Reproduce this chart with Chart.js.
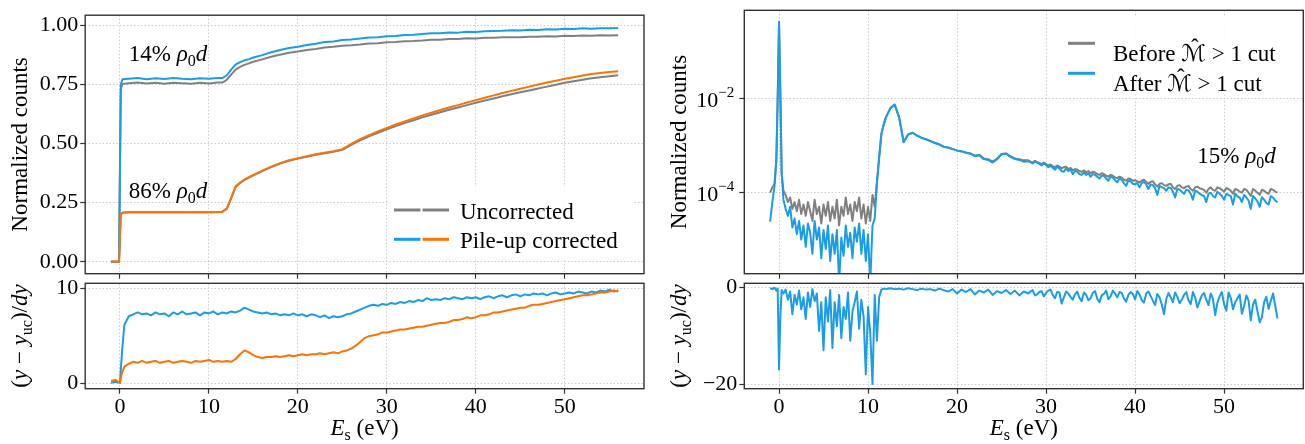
<!DOCTYPE html>
<html>
<head>
<meta charset="utf-8">
<script src="https://cdn.jsdelivr.net/npm/chart.js@4.4.1/dist/chart.umd.min.js"></script>
<style>
  body { margin: 0; background: #fff; }
  #wrap { position: relative; width: 1305px; height: 444px; }
  #wrap canvas { position: absolute; left: 0; top: 0; }
</style>
</head>
<body>
<div id="wrap">
  <canvas id="tl" width="1305" height="444"></canvas>
  <canvas id="bl" width="1305" height="444"></canvas>
  <canvas id="tr" width="1305" height="444"></canvas>
  <canvas id="br" width="1305" height="444"></canvas>
</div>
<script>
// ---- data: left panels (cumulative counts + relative difference) ----
const xTop = [-1, -0.5, -0.1, 0.1, 0.3,
  1, 2, 3, 4, 5, 6, 7, 8, 9, 10, 11,
  11.5, 12, 12.5, 13, 13.5, 14, 14.5, 15,
  16, 17, 18, 19, 20, 21, 22, 23, 24, 25,
  26, 27, 28, 29, 30, 31, 32, 33, 34, 35,
  36, 37, 38, 39, 40, 41, 42, 43, 44, 45,
  46, 47, 48, 49, 50, 51, 52, 53, 54, 55,
  56];

const thinCorrected = [0, 0, 0, 0.75, 0.771,
  0.773, 0.776, 0.771, 0.775, 0.772, 0.776, 0.773, 0.771, 0.775, 0.773, 0.776,
  0.776, 0.787, 0.812, 0.833, 0.843, 0.851, 0.856, 0.863,
  0.873, 0.885, 0.895, 0.903, 0.908, 0.916, 0.921, 0.928, 0.931, 0.937,
  0.939, 0.943, 0.947, 0.948, 0.953, 0.954, 0.958, 0.959, 0.962, 0.965,
  0.965, 0.969, 0.968, 0.972, 0.971, 0.974, 0.975, 0.976, 0.978, 0.977,
  0.980, 0.979, 0.982, 0.981, 0.984, 0.983, 0.986, 0.984, 0.987, 0.986,
  0.988];

const thinUncorrected = [0, 0, 0, 0.73, 0.751,
  0.754, 0.757, 0.753, 0.756, 0.752, 0.756, 0.754, 0.752, 0.756, 0.753, 0.757,
  0.757, 0.768, 0.791, 0.812, 0.823, 0.832, 0.838, 0.845,
  0.855, 0.866, 0.875, 0.883, 0.888, 0.895, 0.899, 0.905, 0.908, 0.913,
  0.915, 0.918, 0.922, 0.923, 0.927, 0.928, 0.932, 0.933, 0.935, 0.938,
  0.938, 0.941, 0.941, 0.944, 0.943, 0.946, 0.946, 0.948, 0.949, 0.949,
  0.951, 0.951, 0.953, 0.952, 0.955, 0.954, 0.956, 0.955, 0.957, 0.956,
  0.957];

const thickCorrected = [0, 0, 0, 0.2, 0.208,
  0.210, 0.211, 0.210, 0.211, 0.210, 0.211, 0.210, 0.210, 0.211, 0.210, 0.211,
  0.212, 0.225, 0.270, 0.318, 0.335, 0.348, 0.358, 0.367,
  0.385, 0.402, 0.417, 0.429, 0.438, 0.446, 0.454, 0.461, 0.467, 0.476,
  0.498, 0.518, 0.535, 0.551, 0.566, 0.580, 0.593, 0.606, 0.618, 0.630,
  0.641, 0.652, 0.662, 0.673, 0.683, 0.693, 0.703, 0.713, 0.722, 0.731,
  0.740, 0.749, 0.757, 0.765, 0.773, 0.780, 0.787, 0.793, 0.798, 0.802,
  0.805];

const thickUncorrected = [0, 0, 0, 0.2, 0.207,
  0.209, 0.210, 0.209, 0.210, 0.209, 0.210, 0.209, 0.209, 0.210, 0.209, 0.210,
  0.211, 0.224, 0.268, 0.316, 0.333, 0.346, 0.356, 0.365,
  0.383, 0.400, 0.415, 0.427, 0.436, 0.444, 0.452, 0.459, 0.465, 0.473,
  0.494, 0.513, 0.530, 0.545, 0.560, 0.573, 0.586, 0.598, 0.610, 0.621,
  0.632, 0.642, 0.652, 0.662, 0.672, 0.681, 0.690, 0.699, 0.708, 0.716,
  0.724, 0.732, 0.740, 0.748, 0.756, 0.763, 0.769, 0.775, 0.780, 0.784,
  0.788];

const xBottom = [-1, -0.5, 0, 0.25,
  0.5, 1, 1.5, 2, 2.5, 3, 3.5, 4, 4.5, 5,
  5.5, 6, 6.5, 7, 7.5, 8, 8.5, 9, 9.5, 10,
  10.5, 11, 11.5, 12, 12.5, 13, 13.5, 14, 14.5, 15,
  15.5, 16, 16.5, 17, 17.5, 18, 18.5, 19, 19.5, 20,
  20.5, 21, 21.5, 22, 22.5, 23, 23.5, 24, 24.5, 25,
  25.5, 26, 26.5, 27, 27.5, 28, 28.5, 29, 29.5, 30,
  30.5, 31, 31.5, 32, 32.5, 33, 33.5, 34, 34.5, 35,
  35.5, 36, 36.5, 37, 37.5, 38, 38.5, 39, 39.5, 40,
  40.5, 41, 41.5, 42, 42.5, 43, 43.5, 44, 44.5, 45,
  45.5, 46, 46.5, 47, 47.5, 48, 48.5, 49, 49.5, 50,
  50.5, 51, 51.5, 52, 52.5, 53, 53.5, 54, 54.5, 55,
  55.5, 56];

const thinDiff = [0.1, 0.2, 0.1, 3.5,
  6.2, 7.1, 7.3, 7.5, 7.3, 7.4, 7.2, 7.5, 7.3, 7.4,
  7.1, 7.5, 7.3, 7.6, 7.3, 7.4, 7.5, 7.2, 7.5, 7.4,
  7.6, 7.3, 7.5, 7.4, 7.6, 7.5, 7.7, 8.0, 7.8, 7.6,
  7.5, 7.4, 7.5, 7.3, 7.4, 7.2, 7.3, 7.2, 7.4, 7.2,
  7.3, 7.1, 7.3, 7.2, 7.0, 7.2, 6.9, 7.1, 7.0, 7.1,
  7.3, 7.4, 7.6, 7.8, 8.0, 8.2, 8.3, 8.2, 8.4, 8.3,
  8.5, 8.4, 8.6, 8.5, 8.7, 8.6, 8.8, 8.7, 9.0, 8.8,
  8.9, 8.8, 9.0, 8.9, 9.1, 9.0, 8.9, 9.1, 9.0, 9.1,
  8.9, 9.1, 9.2, 9.0, 9.2, 9.3, 9.1, 9.3, 9.4, 9.2,
  9.4, 9.3, 9.5, 9.4, 9.5, 9.3, 9.5, 9.6, 9.4, 9.5,
  9.6, 9.5, 9.7, 9.6, 9.5, 9.7, 9.6, 9.8, 9.7, 9.9,
  9.7, 9.8];

const thickDiff = [0.3, 0.4, 0.1, 1.2,
  1.8, 2.1, 2.3, 2.2, 2.4, 2.2, 2.3, 2.4, 2.2, 2.3,
  2.4, 2.2, 2.3, 2.4, 2.3, 2.2, 2.4, 2.3, 2.4, 2.5,
  2.3, 2.4, 2.3, 2.4, 2.3, 2.6, 3.1, 3.5, 3.3, 3.0,
  2.8, 2.7, 2.8, 2.8, 2.9, 2.8, 2.9, 3.0, 2.9, 3.0,
  3.1, 3.0, 3.1, 3.1, 3.2, 3.1, 3.2, 3.3, 3.2, 3.4,
  3.5, 3.7, 4.0, 4.4, 4.8, 5.0, 5.1, 5.2, 5.4, 5.4,
  5.5, 5.6, 5.7, 5.7, 5.8, 5.9, 6.0, 6.0, 6.1, 6.2,
  6.3, 6.4, 6.4, 6.5, 6.7, 6.7, 6.8, 7.0, 6.9, 7.0,
  7.2, 7.2, 7.3, 7.5, 7.5, 7.6, 7.7, 7.8, 7.9, 8.0,
  8.0, 8.2, 8.3, 8.3, 8.4, 8.5, 8.6, 8.7, 8.8, 8.9,
  9.0, 9.1, 9.2, 9.3, 9.3, 9.4, 9.5, 9.6, 9.6, 9.7,
  9.8, 9.7];

// ---- data: right panels (spectrum before/after cut) ----
const xRight = [-1, -0.75, -0.5, -0.3, -0.15, 0, 0.15, 0.3,
  0.5, 0.75, 1, 1.25, 1.5, 1.75, 2, 2.25, 2.5, 2.75,
  3, 3.25, 3.5, 3.75, 4, 4.25, 4.5, 4.75, 5, 5.25,
  5.5, 5.75, 6, 6.25, 6.5, 6.75, 7, 7.25, 7.5, 7.75,
  8, 8.25, 8.5, 8.75, 9, 9.25, 9.5, 9.75, 10, 10.25,
  10.5, 10.75, 11, 11.25, 11.5, 11.75, 12,
  12.5, 13, 13.5, 14, 14.5, 15, 15.5, 16, 16.5, 17,
  17.5, 18, 18.5, 19, 19.5, 20, 20.5, 21, 21.5, 22,
  22.5, 23, 23.5, 24, 24.5, 25, 25.5, 26, 26.5, 27,
  27.5, 28,
  28.25, 28.5, 28.75, 29, 29.25, 29.5, 29.75, 30, 30.25, 30.5,
  30.75, 31, 31.25, 31.5, 31.75, 32, 32.25, 32.5, 32.75, 33,
  33.25, 33.5, 33.75, 34, 34.25, 34.5, 34.75, 35, 35.25, 35.5,
  35.75, 36, 36.25, 36.5, 36.75, 37, 37.25, 37.5, 37.75, 38,
  38.25, 38.5, 38.75, 39, 39.25, 39.5, 39.75, 40, 40.25, 40.5,
  40.75, 41, 41.25, 41.5, 41.75, 42, 42.25, 42.5, 42.75, 43,
  43.25, 43.5, 43.75, 44, 44.25, 44.5, 44.75, 45, 45.25, 45.5,
  45.75, 46, 46.25, 46.5, 46.75, 47, 47.25, 47.5, 47.75, 48,
  48.25, 48.5, 48.75, 49, 49.25, 49.5, 49.75, 50, 50.25, 50.5,
  50.75, 51, 51.25, 51.5, 51.75, 52, 52.25, 52.5, 52.75, 53,
  53.25, 53.5, 53.75, 54, 54.25, 54.5, 54.75, 55, 55.25, 55.5,
  55.75, 56];

const countsBefore = [1e-4, 1.3e-4, 1.6e-4, 5.2e-4, 1e-2, 0.44, 1.3e-2, 2.6e-4,
  1.1e-4, 8.9e-5, 6.3e-5, 7.9e-5, 4.5e-5, 6.3e-5, 4e-5, 7.1e-5, 3.5e-5, 5.6e-5,
  3.2e-5, 6.3e-5, 4e-5, 2.5e-5, 7.1e-5, 3.5e-5, 5e-5, 2.2e-5, 5.6e-5, 3.2e-5,
  6.3e-5, 2.5e-5, 5e-5, 2.8e-5, 7.1e-5, 2e-5, 5e-5, 3.2e-5, 7.9e-5, 3.5e-5,
  5.6e-5, 2.5e-5, 6.3e-5, 4e-5, 7.9e-5, 2.8e-5, 5.6e-5, 2.2e-5, 5e-5, 2.5e-5,
  8.9e-5, 5e-5, 1.7e-4, 5.7e-4, 1.8e-3, 2.8e-3, 4e-3,
  6.3e-3, 7.6e-3, 4e-3, 1.2e-3, 1.75e-3, 1.9e-3, 1.67e-3, 1.49e-3, 1.39e-3, 1.27e-3,
  1.16e-3, 1.08e-3, 9.6e-4, 9.2e-4, 8.6e-4, 8.0e-4, 7.7e-4, 7.2e-4, 6.9e-4, 6.2e-4,
  6.4e-4, 5.4e-4, 5.2e-4, 4.6e-4, 5.3e-4, 6.7e-4, 6.9e-4, 6.0e-4, 5.4e-4, 5.2e-4,
  4.9e-4, 4.9e-4,
  4.6e-4, 4.4e-4, 4.8e-4, 4.5e-4, 4.3e-4, 4.1e-4, 4.4e-4, 4.1e-4, 3.8e-4, 4.0e-4,
  3.7e-4, 3.5e-4, 3.8e-4, 3.6e-4, 3.3e-4, 3.5e-4, 3.6e-4, 3.2e-4, 3.4e-4, 3.0e-4,
  3.2e-4, 3.1e-4, 2.9e-4, 2.8e-4, 3.0e-4, 2.7e-4, 2.9e-4, 2.6e-4, 2.8e-4, 2.7e-4,
  2.5e-4, 2.4e-4, 2.6e-4, 2.5e-4, 2.3e-4, 2.2e-4, 2.4e-4, 2.3e-4, 2.1e-4, 2.05e-4,
  2.2e-4, 2.1e-4, 1.9e-4, 1.8e-4, 2.0e-4, 1.95e-4, 1.8e-4, 1.85e-4, 1.75e-4, 1.65e-4,
  1.8e-4, 1.9e-4, 1.7e-4, 1.55e-4, 1.7e-4, 1.75e-4, 1.5e-4, 1.35e-4, 1.55e-4, 1.6e-4,
  1.45e-4, 1.4e-4, 1.5e-4, 1.55e-4, 1.3e-4, 1.2e-4, 1.4e-4, 1.45e-4, 1.3e-4, 1.25e-4,
  1.35e-4, 1.4e-4, 1.2e-4, 1.1e-4, 1.3e-4, 1.35e-4, 1.25e-4, 1.2e-4, 1.15e-4, 1.0e-4,
  1.2e-4, 1.3e-4, 1.15e-4, 1.1e-4, 1.3e-4, 1.25e-4, 1.15e-4, 1.05e-4, 1.25e-4, 1.2e-4,
  1.1e-4, 9.5e-5, 1.2e-4, 1.15e-4, 1.05e-4, 1.0e-4, 1.2e-4, 1.15e-4, 1.0e-4, 8.5e-5,
  1.2e-4, 1.1e-4, 1.0e-4, 9e-5, 1.15e-4, 1.1e-4, 1.0e-4, 9.5e-5, 1.2e-4, 1.15e-4,
  1.05e-4, 1.0e-4];

const countsAfter = [2.4e-5, 6.3e-5, 1.4e-4, 5e-4, 1e-2, 0.44, 1.3e-2, 2.5e-4,
  7e-5, 4.5e-5, 3.2e-5, 5e-5, 1.8e-5, 2.8e-5, 1.3e-5, 2.5e-5, 1e-5, 2e-5,
  7e-6, 2.2e-5, 1.4e-5, 5e-6, 2.5e-5, 1e-5, 1.8e-5, 4e-6, 1.6e-5, 6.3e-6,
  2e-5, 3.5e-6, 1.3e-5, 5e-6, 1.6e-5, 1.2e-6, 1.1e-5, 4.5e-6, 2e-5, 7e-6,
  1.4e-5, 4e-6, 1.8e-5, 9e-6, 2.2e-5, 5e-6, 1.6e-5, 3.5e-6, 1.3e-5, 1.2e-6,
  2e-5, 2.8e-5, 1.6e-4, 5.6e-4, 1.8e-3, 2.8e-3, 4e-3,
  6.3e-3, 7.6e-3, 4e-3, 1.2e-3, 1.74e-3, 1.9e-3, 1.66e-3, 1.48e-3, 1.38e-3, 1.26e-3,
  1.15e-3, 1.07e-3, 9.5e-4, 9.1e-4, 8.5e-4, 7.9e-4, 7.6e-4, 7.1e-4, 6.8e-4, 6.0e-4,
  6.3e-4, 5.2e-4, 5.0e-4, 4.4e-4, 5.2e-4, 6.6e-4, 6.8e-4, 5.8e-4, 5.2e-4, 5.0e-4,
  4.6e-4, 4.7e-4,
  4.5e-4, 4.2e-4, 4.6e-4, 4.4e-4, 4.1e-4, 3.8e-4, 4.2e-4, 3.9e-4, 3.5e-4, 3.7e-4,
  3.4e-4, 3.1e-4, 3.6e-4, 3.3e-4, 2.9e-4, 2.8e-4, 3.3e-4, 2.9e-4, 3.1e-4, 2.5e-4,
  2.9e-4, 2.8e-4, 2.5e-4, 2.4e-4, 2.7e-4, 2.4e-4, 2.6e-4, 2.2e-4, 2.5e-4, 2.4e-4,
  2.2e-4, 2.0e-4, 2.3e-4, 2.3e-4, 2.0e-4, 1.8e-4, 2.2e-4, 2.1e-4, 1.85e-4, 1.66e-4,
  2.0e-4, 1.9e-4, 1.6e-4, 1.4e-4, 1.8e-4, 1.75e-4, 1.55e-4, 1.5e-4, 1.6e-4, 1.3e-4,
  1.6e-4, 1.7e-4, 1.5e-4, 1.2e-4, 1.5e-4, 1.45e-4, 1.25e-4, 8.9e-5, 1.4e-4, 1.32e-4,
  1.25e-4, 1.1e-4, 1.3e-4, 1.26e-4, 1.05e-4, 7.9e-5, 1.2e-4, 1.17e-4, 1.05e-4, 9.5e-5,
  1.15e-4, 1.12e-4, 9.5e-5, 7.1e-5, 1.1e-4, 1.05e-4, 9.5e-5, 8.9e-5, 8.5e-5, 6.3e-5,
  9.5e-5, 1.0e-4, 8.5e-5, 7.9e-5, 1.05e-4, 9.5e-5, 8.5e-5, 7.1e-5, 9.5e-5, 8.9e-5,
  8.5e-5, 5.6e-5, 9.5e-5, 8.3e-5, 7.9e-5, 6.3e-5, 9.0e-5, 7.9e-5, 6.8e-5, 4.5e-5,
  8.5e-5, 7.6e-5, 6.5e-5, 5.0e-5, 8.0e-5, 7.1e-5, 6.0e-5, 5.6e-5, 8.5e-5, 7.9e-5,
  6.8e-5, 6.3e-5];

const cutDiff = [-0.1, -0.3, 0, -0.6, -0.2, -17, -6, -0.5,
  -1.2, -0.4, -2.5, -0.8, -5.5, -1.5, -3.5, -0.6, -4.5, -2,
  -6.5, -1, -4, -0.3, -2.8, -1.2, -9, -3, -13, -2,
  -7, -0.5, -12.5, -3, -8, -1.5, -10.5, -4, -6.5, -1,
  -11, -5, -3, -0.8, -8.5, -2.5, -6, -18, -4, -9.5,
  -20, -1.5, -11, -2, -0.4, -0.2, -0.3,
  -0.1, -0.3, -0.2, -0.4, -0.1, -0.3, -0.5, -0.2, -0.4, -0.3,
  -0.6, -0.2, -0.5, -0.8, -0.3, -1.2, -0.4, -0.9, -0.3, -1.4,
  -0.6, -1.0, -0.4, -1.5, -0.7, -1.1, -0.5, -1.3, -0.6, -1.6,
  -0.8, -1.2,
  -0.8, -0.5, -1.6, -1.4, -0.9, -0.7, -1.8, -1.1, -0.6, -0.4,
  -1.5, -2.2, -0.9, -1.0, -3.3, -2.0, -0.8, -1.2, -1.9, -2.5,
  -1.4, -0.8, -2.1, -2.8, -1.0, -1.5, -2.6, -2.2, -1.1, -0.7,
  -2.3, -3.0, -1.6, -1.3, -0.6, -2.4, -1.8, -0.6, -1.2, -2.0,
  -0.9, -1.1, -2.2, -2.9, -1.5, -0.9, -1.3, -2.4, -0.7, -1.4,
  -2.6, -3.1, -1.2, -0.8, -1.7, -2.7, -3.6, -1.3, -2.0, -3.5,
  -5.5, -2.4, -1.1, -2.0, -3.0, -1.0, -1.9, -3.2, -2.5, -1.5,
  -0.9, -2.6, -3.4, -0.9, -2.0, -4.1, -2.8, -1.6, -1.1, -2.5,
  -3.6, -1.2, -2.3, -5.7, -3.1, -1.8, -0.9, -3.4, -4.8, -1.0,
  -2.1, -4.5, -3.0, -2.2, -1.4, -5.4, -3.8, -1.6, -2.7, -6.8,
  -3.5, -2.5, -4.9, -7.2, -6.1, -3.0, -1.9, -4.4, -2.7, -1.2,
  -3.8, -6.4];

// ticks
const xTicks = [0, 10, 20, 30, 40, 50];
const yTicksTL = [0, 0.25, 0.5, 0.75, 1];
const yTicksBL = [0, 10];
const yTicksTR = [1e-4, 1e-2];
const yTickExpTR = ['\u22124', '\u22122'];
const yTicksBR = [-20, 0];

const SERIF = '"Liberation Serif", "DejaVu Serif", "DejaVu Sans", serif';
const BLUE = '#1a9de4';
const ORANGE = '#f97306';
const GRAY = '#808080';
const GRID = '#cccccc';

Chart.defaults.color = '#000';

function pts(xs, ys) {
  return xs.map((x, i) => ({ x: x, y: ys[i] }));
}

function partFont(p, size) {
  const s = (p.sub || p.sup) ? Math.round(size * 0.7) : size;
  return (p.it ? 'italic ' : '') + s + 'px ' + SERIF;
}

// text with italic / sub / sup / hat pieces
function drawRich(ctx, parts, x, y, size, align) {
  ctx.save();
  ctx.textBaseline = 'alphabetic';
  ctx.textAlign = 'left';
  ctx.fillStyle = '#000';
  const widths = parts.map(p => { ctx.font = partFont(p, size); return ctx.measureText(p.t).width; });
  const total = widths.reduce((s, w) => s + w, 0);
  let cx = align === 'center' ? x - total / 2 : align === 'right' ? x - total : x;
  parts.forEach((p, i) => {
    ctx.font = partFont(p, size);
    const dy = p.sub ? size * 0.22 : p.sup ? -size * 0.45 : 0;
    ctx.fillText(p.t, cx, y + dy);
    if (p.hat) {
      ctx.font = size + 'px ' + SERIF;
      ctx.textAlign = 'center';
      ctx.fillText('\u02C6', cx + widths[i] * 0.55, y - size * 0.27);
      ctx.textAlign = 'left';
    }
    cx += widths[i];
  });
  ctx.restore();
}

function drawLegend(ctx, lg) {
  ctx.save();
  ctx.fillStyle = 'rgba(255,255,255,0.9)';
  ctx.fillRect(lg.box[0], lg.box[1], lg.box[2] - lg.box[0], lg.box[3] - lg.box[1]);
  lg.rows.forEach((r, i) => {
    const y = lg.y + i * lg.gap;
    const n = r.colors.length;
    const seg = (lg.handleW - (n - 1) * 2) / n;
    r.colors.forEach((c, j) => {
      const x0 = lg.x + j * (seg + 2);
      ctx.strokeStyle = c;
      ctx.lineWidth = 3;
      ctx.beginPath();
      ctx.moveTo(x0, y);
      ctx.lineTo(x0 + seg, y);
      ctx.stroke();
    });
    drawRich(ctx, r.parts, lg.x + lg.textDx, y + lg.baseDy, 23, 'left');
  });
  ctx.restore();
}

const rho = [{ t: '\u03C1', it: true }, { t: '0', sub: true }, { t: 'd', it: true }];
const xTitle = [{ t: 'E', it: true }, { t: 's', sub: true }, { t: ' (eV)' }];
const diffTitle = [{ t: '(' }, { t: 'y', it: true }, { t: ' \u2212 ' }, { t: 'y', it: true },
  { t: 'uc', sub: true }, { t: ')/' }, { t: 'dy', it: true }];
const countsTitle = [{ t: 'Normalized counts' }];

const decorCfg = {
  tl: {
    yTitle: { x: 27, parts: countsTitle },
    notes: [
      { x: 1, y: 0.85, parts: [{ t: '14% ' }].concat(rho) },
      { x: 1, y: 0.27, parts: [{ t: '86% ' }].concat(rho) }
    ],
    legend: {
      box: [388, 187, 633, 259], x: 394, y: 210, gap: 29.3, handleW: 55, textDx: 66, baseDy: 8.5,
      rows: [
        { colors: [GRAY, GRAY], parts: [{ t: 'Uncorrected' }] },
        { colors: [BLUE, ORANGE], parts: [{ t: 'Pile-up corrected' }] }
      ]
    }
  },
  bl: { yTitle: { x: 27, parts: diffTitle }, xTitle: { y: 435, parts: xTitle } },
  tr: {
    yTitle: { x: 686, parts: countsTitle },
    logTicks: { values: yTicksTR, exps: yTickExpTR },
    notes: [{ x: 47, y: 4.4e-4, parts: [{ t: '15% ' }].concat(rho) }],
    legend: {
      box: [1060, 17, 1296, 95], x: 1068, y: 43.3, gap: 30, handleW: 27, textDx: 45, baseDy: 17.5,
      rows: [
        { colors: [GRAY], parts: [{ t: 'Before ' }, { t: '\u2133', it: true, hat: true }, { t: ' > 1 cut' }] },
        { colors: [BLUE], parts: [{ t: 'After ' }, { t: '\u2133', it: true, hat: true }, { t: ' > 1 cut' }] }
      ]
    }
  },
  br: { yTitle: { x: 686, parts: diffTitle }, xTitle: { y: 435, parts: xTitle } }
};

const decor = {
  id: 'decor',
  afterDatasetsDraw(chart) {
    const o = decorCfg[chart.canvas.id];
    const ctx = chart.ctx;
    (o.notes || []).forEach(n => {
      drawRich(ctx, n.parts, chart.scales.x.getPixelForValue(n.x), chart.scales.y.getPixelForValue(n.y), 23, 'left');
    });
    if (o.legend) drawLegend(ctx, o.legend);
  },
  afterDraw(chart) {
    const o = decorCfg[chart.canvas.id];
    const ctx = chart.ctx, a = chart.chartArea;
    ctx.save();
    ctx.strokeStyle = '#333';
    ctx.lineWidth = 1.4;
    ctx.strokeRect(a.left, a.top, a.right - a.left, a.bottom - a.top);
    ctx.restore();
    if (o.yTitle) {
      ctx.save();
      ctx.translate(o.yTitle.x, (a.top + a.bottom) / 2);
      ctx.rotate(-Math.PI / 2);
      drawRich(ctx, o.yTitle.parts, 0, 0, 23, 'center');
      ctx.restore();
    }
    if (o.xTitle) drawRich(ctx, o.xTitle.parts, (a.left + a.right) / 2, o.xTitle.y, 23, 'center');
    if (o.logTicks) {
      const s = chart.scales.y;
      o.logTicks.values.forEach((v, i) => {
        drawRich(ctx, [{ t: '10' }, { t: o.logTicks.exps[i], sup: true }], a.left - 10, s.getPixelForValue(v) + 8, 22, 'right');
      });
    }
  }
};

const gridOpts = { color: GRID, lineWidth: 1, tickColor: '#333', tickLength: 5, tickWidth: 1.2 };
const borderOpts = { display: false, dash: [1.5, 2] };
const tickFont = { family: SERIF, size: 22, lineHeight: 1.2 };

function xScale(showLabels) {
  return {
    type: 'linear', min: -3.9, max: 58.9,
    afterBuildTicks: s => { s.ticks = xTicks.map(v => ({ value: v })); },
    afterFit: s => { s.height = showLabels ? 40 : 6; },
    ticks: { display: showLabels, font: tickFont, color: '#000', padding: 0, maxRotation: 0, autoSkip: false },
    grid: gridOpts,
    border: borderOpts
  };
}

function yScale(type, min, max, tickVals, cb, showLabels) {
  return {
    type: type, min: min, max: max,
    afterBuildTicks: s => { s.ticks = tickVals.map(v => ({ value: v })); },
    afterFit: s => { s.width = 60; },
    ticks: { display: showLabels, font: tickFont, color: '#000', padding: 2, callback: cb },
    grid: gridOpts,
    border: borderOpts
  };
}

function line(xs, ys, color) {
  return { data: pts(xs, ys), borderColor: color, backgroundColor: color, borderWidth: 2, pointRadius: 0, tension: 0, fill: false };
}

function makeChart(id, datasets, yOpts, showX, pad) {
  return new Chart(document.getElementById(id), {
    type: 'line',
    data: { datasets: datasets },
    options: {
      responsive: false,
      animation: false,
      events: [],
      layout: { padding: pad },
      elements: { line: { borderJoinStyle: 'round' } },
      plugins: { legend: { display: false }, tooltip: { enabled: false } },
      scales: { x: xScale(showX), y: yOpts }
    },
    plugins: [decor]
  });
}

makeChart('tl', [
  line(xTop, thickCorrected, ORANGE),
  line(xTop, thinCorrected, BLUE),
  line(xTop, thickUncorrected, GRAY),
  line(xTop, thinUncorrected, GRAY)
], yScale('linear', -0.05, 1.0416, yTicksTL, v => v.toFixed(2), true), false,
  { left: 25.2, top: 10.3, right: 661, bottom: 164.3 });

makeChart('bl', [
  line(xBottom, thickDiff, ORANGE),
  line(xBottom, thinDiff, BLUE)
], yScale('linear', -0.526, 10.568, yTicksBL, v => String(v), true), true,
  { left: 25.2, top: 283.3, right: 661, bottom: 15.3 });

makeChart('tr', [
  line(xRight, countsAfter, BLUE),
  line(xRight, countsBefore, GRAY)
], yScale('logarithmic', 1.866e-6, 0.781, yTicksTR, () => '', false), false,
  { left: 684.3, top: 10.3, right: 1.7, bottom: 164.3 });

makeChart('br', [
  line(xRight, cutDiff, BLUE)
], yScale('linear', -20.97, 0.91, yTicksBR, v => (v < 0 ? '\u2212' + Math.abs(v) : String(v)), true), true,
  { left: 684.3, top: 283.3, right: 1.7, bottom: 15.3 });
</script>
</body>
</html>
